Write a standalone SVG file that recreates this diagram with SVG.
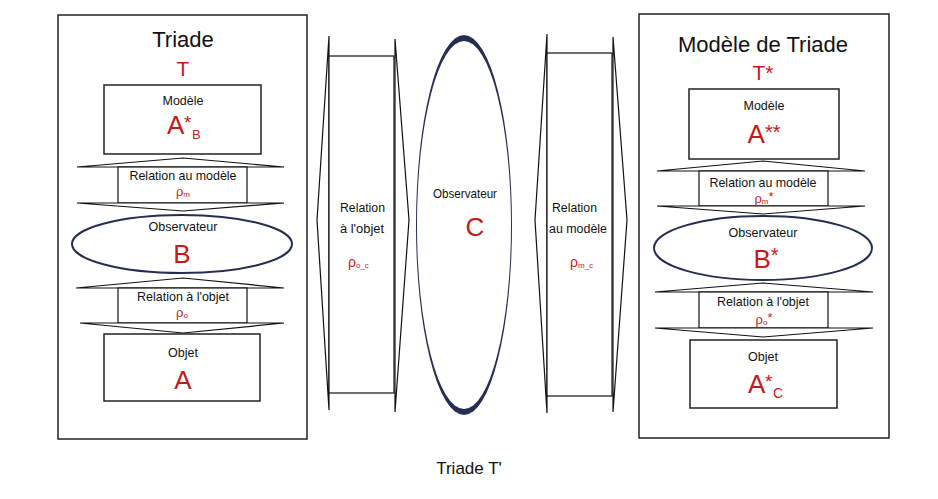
<svg xmlns="http://www.w3.org/2000/svg" width="938" height="499" viewBox="0 0 938 499">
<style>
text{font-family:"Liberation Sans",Arial,sans-serif}
.box{fill:#fff;stroke:#222;stroke-width:1.5}
.rel{fill:#fff;stroke:#111;stroke-width:1.2}
.ell{fill:#fff;stroke:#262d52;stroke-width:2}
.title{font-size:22px;fill:#111;text-anchor:middle}
.lbl{font-size:13px;fill:#111;text-anchor:middle}
.lbll{font-size:12.5px;fill:#111}
.red{fill:#c41a1a}
.big{font-size:26px;text-anchor:middle}
.rho{font-size:13px;text-anchor:middle}
</style>
<rect width="938" height="499" fill="#fff"/>

<g id="triade-left">
<rect class="box" x="58" y="15" width="249" height="424"/>
<text class="title" x="183" y="47">Triade</text>
<text class="red" x="183" y="76" font-size="21" text-anchor="middle">T</text>
</g>
<g id="modele-left">
<rect class="box" x="104" y="85" width="157" height="69"/>
<text class="lbl" x="183" y="105" textLength="41" lengthAdjust="spacingAndGlyphs">Modèle</text>
<text class="red" x="167" y="134" font-size="26">A<tspan x="184" y="129" font-size="19">*</tspan><tspan x="192" y="139" font-size="13">B</tspan></text>
</g>
<g id="rel-modele-left">
<polygon class="rel" points="77,167 183,158 284,167"/>
<rect class="rel" x="118" y="167" width="129" height="36"/>
<polygon class="rel" points="77,203 183,211 284,203"/>
<text class="lbl" x="183" y="180" textLength="107" lengthAdjust="spacingAndGlyphs">Relation au modèle</text>
<text class="red rho" x="183" y="196">ρ<tspan font-size="8" dy="1">m</tspan></text>
</g>
<g id="obs-left">
<ellipse class="ell" cx="182" cy="244" rx="110" ry="29"/>
<text class="lbl" x="183" y="231" textLength="69" lengthAdjust="spacingAndGlyphs">Observateur</text>
<text class="red big" x="182" y="263">B</text>
</g>
<g id="rel-objet-left">
<polygon class="rel" points="76,288 183,278 284,288"/>
<rect class="rel" x="118" y="288" width="129" height="35"/>
<polygon class="rel" points="80,323 183,333 284,323"/>
<text class="lbl" x="183" y="301" textLength="92" lengthAdjust="spacingAndGlyphs">Relation à l'objet</text>
<text class="red rho" x="182" y="317">ρ<tspan font-size="8" dy="1">o</tspan></text>
</g>
<g id="objet-left">
<rect class="box" x="104" y="334" width="156" height="67"/>
<text class="lbl" x="183" y="357" textLength="30" lengthAdjust="spacingAndGlyphs">Objet</text>
<text class="red big" x="183" y="389">A</text>
</g>

<g id="rel-objet-c">
<polygon class="rel" points="329,36 317,220 329,410"/>
<polygon class="rel" points="395,39 409,220 395,412"/>
<rect class="rel" x="329" y="56" width="65" height="337"/>
<text class="lbll" x="340" y="212" textLength="45" lengthAdjust="spacingAndGlyphs">Relation</text>
<text class="lbll" x="340" y="233" textLength="44" lengthAdjust="spacingAndGlyphs">à l'objet</text>
<text class="red" x="348" y="267" font-size="14">ρ<tspan font-size="8" dy="1">o_c</tspan></text>
</g>
<g id="obs-c">
<ellipse cx="464" cy="225" rx="48" ry="190" fill="#262d52"/>
<ellipse cx="464" cy="225" rx="47" ry="184" fill="#fff"/>
<text class="lbl" x="465" y="198" textLength="64" lengthAdjust="spacingAndGlyphs">Observateur</text>
<text class="red big" x="475" y="236">C</text>
</g>
<g id="rel-modele-c">
<polygon class="rel" points="547,34 535,220 547,413"/>
<polygon class="rel" points="613,37 627,220 613,412"/>
<rect class="rel" x="547" y="53" width="65" height="343"/>
<text class="lbll" x="552" y="212" textLength="45" lengthAdjust="spacingAndGlyphs">Relation</text>
<text class="lbll" x="549" y="233" textLength="58" lengthAdjust="spacingAndGlyphs">au modèle</text>
<text class="red" x="570" y="267" font-size="14">ρ<tspan font-size="8" dy="1">m_c</tspan></text>
</g>

<g id="triade-right">
<rect class="box" x="639" y="14" width="250" height="424"/>
<text class="title" x="763" y="52">Modèle de Triade</text>
<text class="red" x="763" y="80" font-size="21" text-anchor="middle">T*</text>
</g>
<g id="modele-right">
<rect class="box" x="689" y="89" width="150" height="70"/>
<text class="lbl" x="764" y="110" textLength="41" lengthAdjust="spacingAndGlyphs">Modèle</text>
<text class="red big" x="764" y="143">A<tspan font-size="20" dy="-4">**</tspan></text>
</g>
<g id="rel-modele-right">
<polygon class="rel" points="657,171 763,161 865,171"/>
<rect class="rel" x="699" y="171" width="129" height="35"/>
<polygon class="rel" points="657,206 763,214 865,206"/>
<text class="lbl" x="763" y="187" textLength="107" lengthAdjust="spacingAndGlyphs">Relation au modèle</text>
<text class="red rho" x="764" y="203">ρ<tspan font-size="8" dy="1">m</tspan><tspan font-size="13" dy="-3">*</tspan></text>
</g>
<g id="obs-right">
<ellipse class="ell" cx="763" cy="248" rx="109" ry="32"/>
<text class="lbl" x="763" y="237" textLength="69" lengthAdjust="spacingAndGlyphs">Observateur</text>
<text class="red big" x="766" y="268">B<tspan font-size="20" dy="-6">*</tspan></text>
</g>
<g id="rel-objet-right">
<polygon class="rel" points="655,292 763,283 873,292"/>
<rect class="rel" x="699" y="292" width="129" height="36"/>
<polygon class="rel" points="655,328 763,337 873,328"/>
<text class="lbl" x="763" y="306" textLength="92" lengthAdjust="spacingAndGlyphs">Relation à l'objet</text>
<text class="red rho" x="764" y="324">ρ<tspan font-size="8" dy="1">o</tspan><tspan font-size="13" dy="-3">*</tspan></text>
</g>
<g id="objet-right">
<rect class="box" x="690" y="340" width="147" height="68"/>
<text class="lbl" x="763" y="361" textLength="30" lengthAdjust="spacingAndGlyphs">Objet</text>
<text class="red" x="748" y="393" font-size="26">A<tspan x="765" y="388" font-size="19">*</tspan><tspan x="773" y="398" font-size="14">C</tspan></text>
</g>

<g id="footer">
<text x="469" y="474" font-size="17" fill="#111" text-anchor="middle">Triade T'</text>
</g>
</svg>
